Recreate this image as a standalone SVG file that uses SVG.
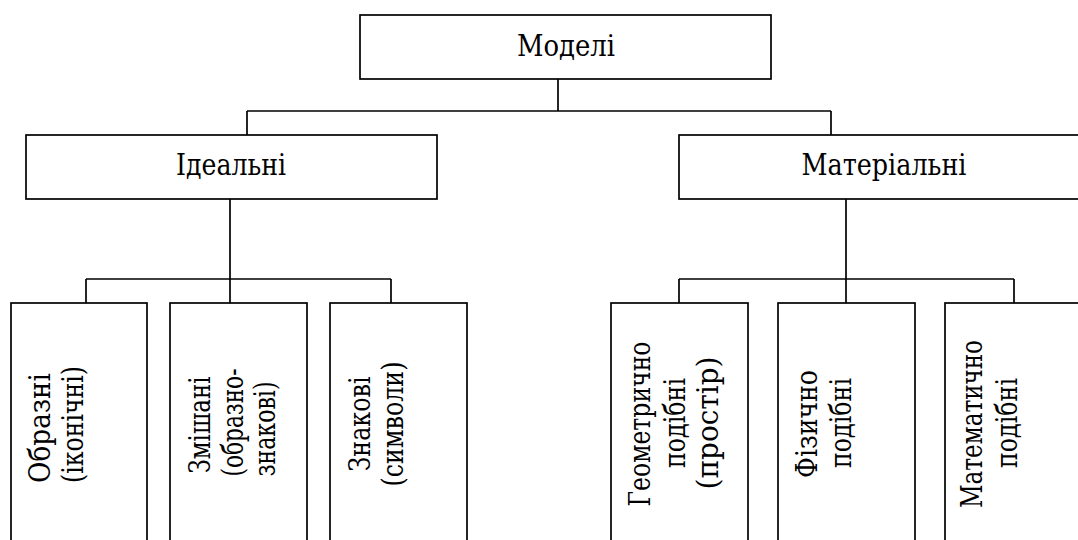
<svg xmlns="http://www.w3.org/2000/svg" width="1078" height="540" viewBox="0 0 1078 540">
<style>
.box{fill:#fff;stroke:#000;stroke-width:1.7}
.ln{stroke:#000;stroke-width:1.7;fill:none}
text{font-family:'DejaVu Serif','Liberation Serif',serif;font-size:30px;fill:#000;text-anchor:middle}
</style>
<rect width="1078" height="540" fill="#fff"/>
<g id="connectors">
<path class="ln" d="M558 79V111M247 111H831M247 111V135M831 111V135"/>
<path class="ln" d="M230 199V303M86 279H391M86 279V303M391 279V303"/>
<path class="ln" d="M846 199V303M679 279H1014M679 279V303M1014 279V303"/>
</g>
<g id="n-models"><rect class="box" x="360" y="15" width="411" height="64"/><text x="566" y="56" textLength="98" lengthAdjust="spacingAndGlyphs">Моделі</text></g>
<g id="n-ideal"><rect class="box" x="26" y="135" width="411" height="64"/><text x="231" y="175" textLength="110" lengthAdjust="spacingAndGlyphs">Ідеальні</text></g>
<g id="n-material"><rect class="box" x="679" y="135" width="412" height="64"/><text x="884" y="175" textLength="165" lengthAdjust="spacingAndGlyphs">Матеріальні</text></g>
<g id="n-obrazni"><rect class="box" x="11" y="303" width="136" height="260"/>
<text transform="translate(50,428) rotate(-90)" textLength="110" lengthAdjust="spacingAndGlyphs">Образні</text>
<text transform="translate(83,424.5) rotate(-90)" textLength="117" lengthAdjust="spacingAndGlyphs">(іконічні)</text></g>
<g id="n-zmishani"><rect class="box" x="170" y="303" width="137" height="260"/>
<text transform="translate(210,425) rotate(-90)" textLength="97" lengthAdjust="spacingAndGlyphs">Змішані</text>
<text transform="translate(243,422.5) rotate(-90)" textLength="108" lengthAdjust="spacingAndGlyphs">(образно-</text>
<text transform="translate(275,429) rotate(-90)" textLength="95" lengthAdjust="spacingAndGlyphs">знакові)</text></g>
<g id="n-znakovi"><rect class="box" x="330" y="303" width="137" height="260"/>
<text transform="translate(370,424) rotate(-90)" textLength="95" lengthAdjust="spacingAndGlyphs">Знакові</text>
<text transform="translate(403,424) rotate(-90)" textLength="125" lengthAdjust="spacingAndGlyphs">(символи)</text></g>
<g id="n-geom"><rect class="box" x="611" y="303" width="137" height="260"/>
<text transform="translate(650,424) rotate(-90)" textLength="165" lengthAdjust="spacingAndGlyphs">Геометрично</text>
<text transform="translate(685,423) rotate(-90)" textLength="90" lengthAdjust="spacingAndGlyphs">подібні</text>
<text transform="translate(718,423) rotate(-90)" textLength="133" lengthAdjust="spacingAndGlyphs">(простір)</text></g>
<g id="n-fiz"><rect class="box" x="778" y="303" width="137" height="260"/>
<text transform="translate(817,424) rotate(-90)" textLength="108" lengthAdjust="spacingAndGlyphs">Фізично</text>
<text transform="translate(851,423) rotate(-90)" textLength="90" lengthAdjust="spacingAndGlyphs">подібні</text></g>
<g id="n-mat"><rect class="box" x="945" y="303" width="137" height="260"/>
<text transform="translate(982,424) rotate(-90)" textLength="168" lengthAdjust="spacingAndGlyphs">Математично</text>
<text transform="translate(1017,423) rotate(-90)" textLength="90" lengthAdjust="spacingAndGlyphs">подібні</text></g>
</svg>
